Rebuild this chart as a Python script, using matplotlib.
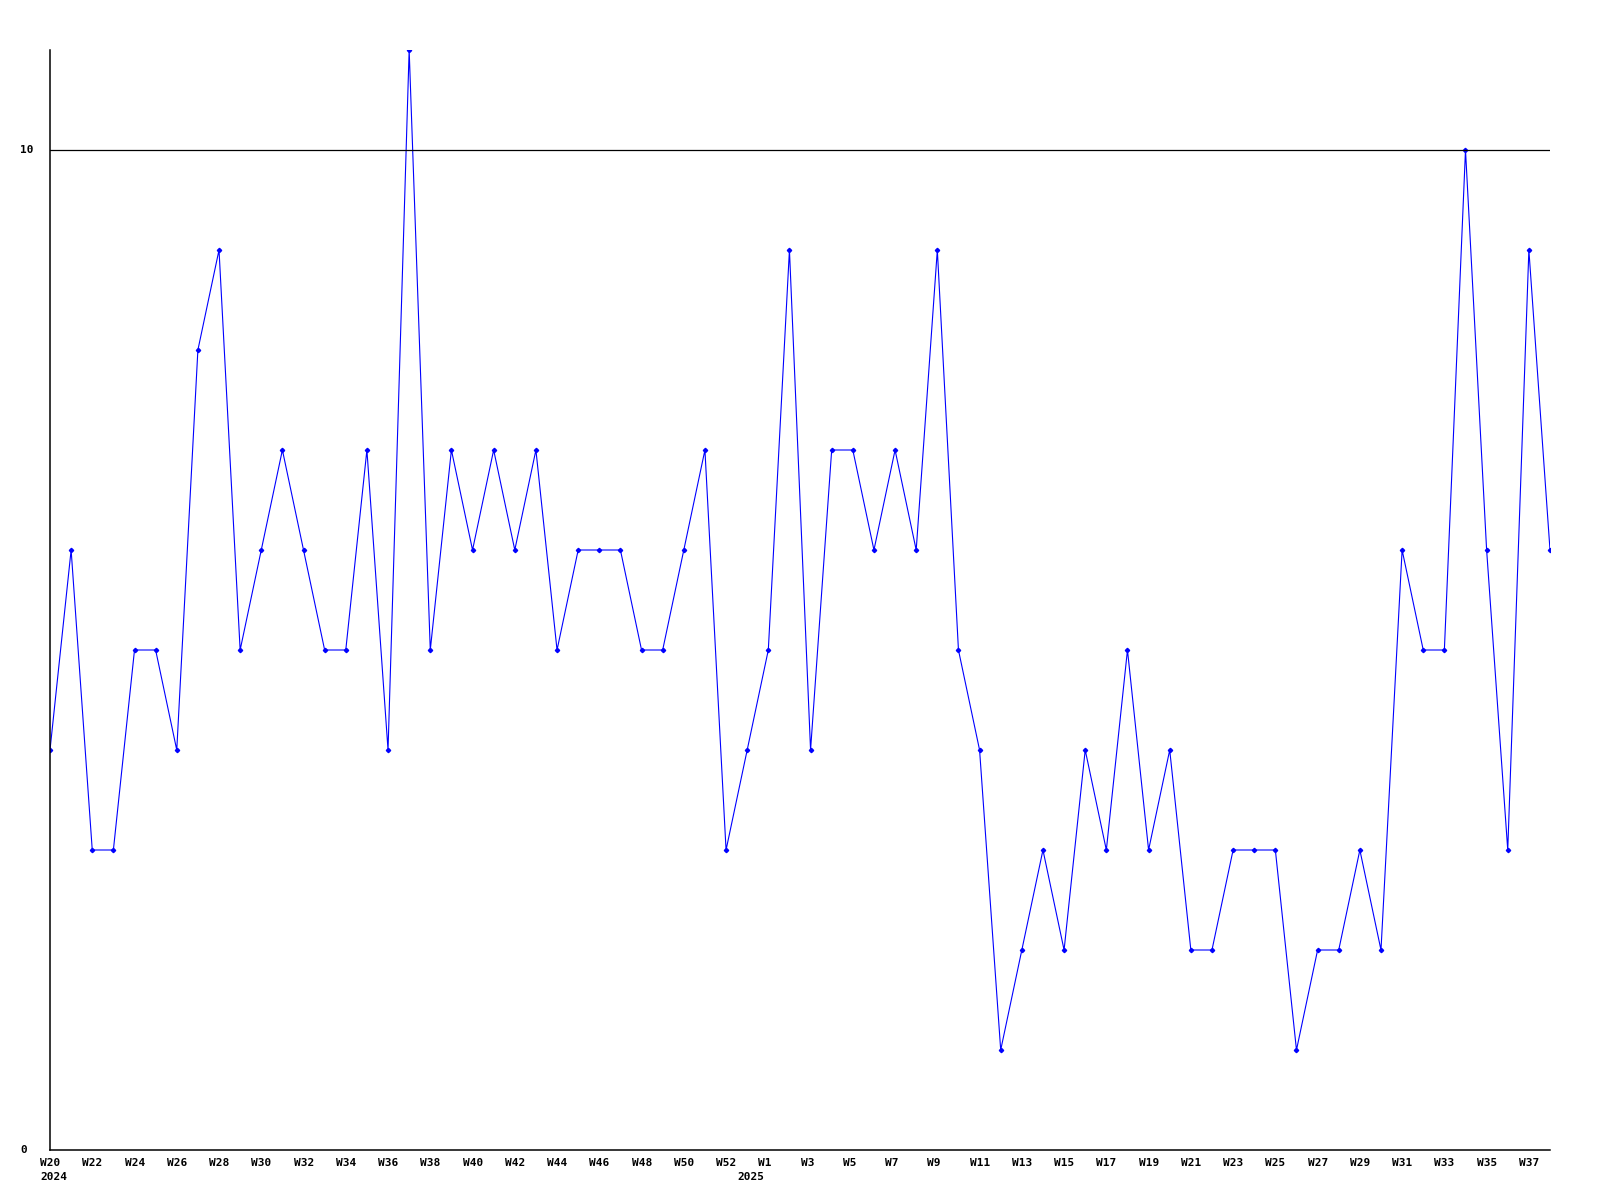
import matplotlib
matplotlib.use("Agg")
import matplotlib.pyplot as plt

values = [4, 6, 3, 3, 5, 5, 4, 8, 9, 5, 6, 7, 6, 5, 5, 7, 4, 11, 5, 7,
          6, 7, 6, 7, 5, 6, 6, 6, 5, 5, 6, 7, 3, 4, 5, 9, 4, 7, 7, 6,
          7, 6, 9, 5, 4, 1, 2, 3, 2, 4, 3, 5, 3, 4, 2, 2, 3, 3, 3, 1,
          2, 2, 3, 2, 6, 5, 5, 10, 6, 3, 9, 6]
label_idx = list(range(0, 33, 2)) + list(range(34, 72, 2))
tick_labels = ["W%d" % w for w in range(20, 53, 2)] + ["W%d" % w for w in range(1, 39, 2)]
year_labels = {0: "2024", 33: "2025"}
y_ticks = [0, 10]

fig = plt.figure(figsize=(16, 12), dpi=100)
ax = fig.add_axes([50/1600, 50/1200, 1500/1600, 1100/1200])
x = list(range(len(values)))
ax.plot(x, values, color="#0000ff", lw=0.8, marker="D", markersize=2.2,
        markerfacecolor="#0000ff", markeredgecolor="#0000ff")
ax.set_xlim(0, len(values) - 1)
ax.set_ylim(0, 11)
for s in ["top", "right"]:
    ax.spines[s].set_visible(False)
for s in ["left", "bottom"]:
    ax.spines[s].set_linewidth(1.1)
ax.axhline(10, color="black", lw=0.9)
ax.set_xticks([])
ax.set_yticks([])

font = dict(family="DejaVu Sans Mono", fontweight="bold", fontsize=8)
px_x = 1500 / (len(values) - 1)
for i, lab in zip(label_idx, tick_labels):
    xf = (50 + i * px_x - 10) / 1600
    fig.text(xf, 1 - 1163/1200, lab, ha="left", va="center", **font)
for i, lab in year_labels.items():
    xf = (50 + i * px_x - 10) / 1600
    fig.text(xf, 1 - 1177/1200, lab, ha="left", va="center", **font)
for v in y_ticks:
    ypix = 1150 - v * 100
    fig.text(20/1600, 1 - ypix/1200, str(v), ha="left", va="center", **font)

fig.savefig("out.png", dpi=100)
